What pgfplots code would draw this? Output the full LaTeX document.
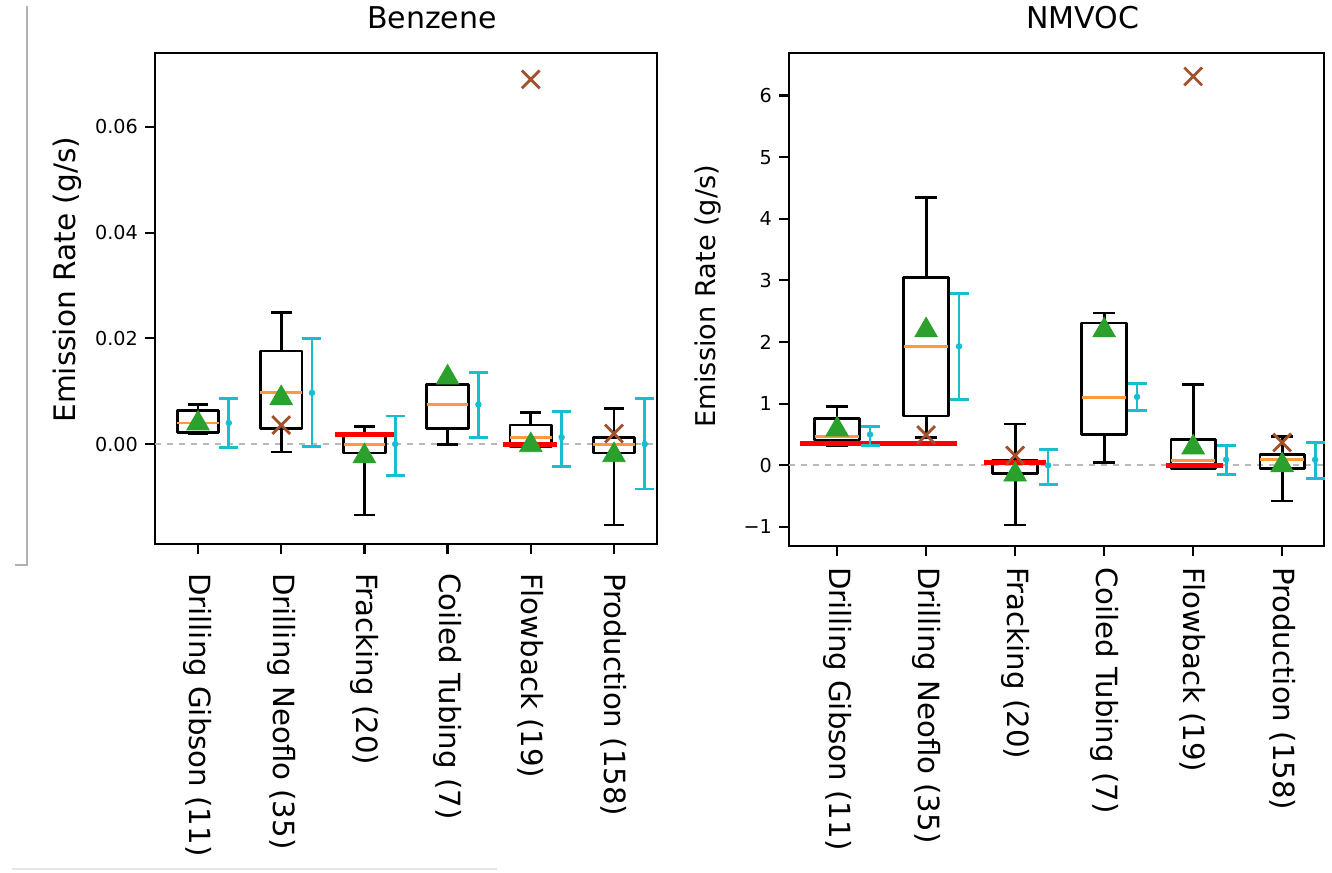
\documentclass[border=0pt]{standalone}
\usepackage{fontspec}
\setmainfont{DejaVu Sans}
\usepackage{pgfplots}
\pgfplotsset{compat=1.18}
\usepgfplotslibrary{statistics}
\definecolor{mgreen}{HTML}{2CA02C}
\definecolor{morange}{HTML}{FF9A3C}
\definecolor{mcyan}{HTML}{17BECF}
\definecolor{mbrown}{HTML}{A0522D}
\pgfplotsset{
 mystyle/.style={
   scale only axis,
   anchor=south west,
   axis line style={line width=1.1pt},
   tick style={line width=1.1pt, black},
   major tick length=5pt,
   tick align=outside,
   tick pos=left,
   scaled y ticks=false,
   xtick={0,...,5},
   xticklabels={Drilling Gibson (11), Drilling Neoflo (35), Fracking (20), Coiled Tubing (7), Flowback (19), Production (158)},
   xticklabel style={rotate=-90, anchor=west, font=\fontsize{14.6}{17}\selectfont},
   yticklabel style={font=\fontsize{9.6}{11}\selectfont},
   /pgf/number format/assume math mode=true,
   boxplot/draw direction=y,
   boxplot/box extend=0.5,
   boxplot/whisker extend=0.25,
   boxplot/every median/.style={draw=morange, line width=1.4pt},
   title style={font=\fontsize{15}{18}\selectfont, at={(0.5,1)}, anchor=base, yshift=6pt, xshift=13pt},
   ylabel style={font=\fontsize{14.8}{17}\selectfont, anchor=center},
   clip=false,
 },
 bx/.style={black, line width=1.4pt, solid, line join=round, mark=none},
 zl/.style={gray!55, dash pattern=on 3pt off 3pt, line width=0.8pt, forget plot},
 rl/.style={red, line width=2.5pt, forget plot},
 mn/.style={only marks, mark=triangle*, mark size=6.5pt, color=mgreen},
 xo/.style={only marks, mark=x, mark size=6.3pt, color=mbrown, mark options={line width=1.4pt}},
 cy/.style={only marks, color=mcyan, mark=*, mark size=1.4pt,
   error bars/.cd, y dir=both, y explicit,
   error bar style={line width=1.4pt, mcyan},
   error mark=-,
   error mark options={rotate=90, mark size=4.75pt, line width=1.4pt, mcyan}},
}
\begin{document}
\begin{tikzpicture}
\useasboundingbox (0,0) rectangle (666pt,436pt);
\draw[gray!60, line width=0.6pt] (13.5pt,433pt) -- (13.5pt,153.5pt) -- (7.5pt,153.5pt);
\draw[gray!20, line width=0.6pt] (6pt,1.5pt) -- (248.5pt,1.5pt);
% ---------------- Benzene ----------------
\begin{axis}[mystyle,
  at={(77.5pt,164pt)}, width=251pt, height=245.5pt,
  xmin=-0.517, xmax=5.517, ymin=-0.0189, ymax=0.074,
  ytick={0,0.02,0.04,0.06}, yticklabels={0.00,0.02,0.04,0.06},
  xticklabel shift=6pt,
  title={Benzene},
  ylabel={Emission Rate (g/s)},
  ylabel style={at={(axis description cs:-0.175,0.538)}},
]
\addplot[zl] coordinates {(-0.517,0) (5.517,0)};
\addplot[bx, boxplot prepared={lower whisker=0.0019, lower quartile=0.0022, median=0.0040, upper quartile=0.0064, upper whisker=0.0075, draw position=0}] coordinates {};
\addplot[bx, boxplot prepared={lower whisker=-0.0015, lower quartile=0.0030, median=0.0098, upper quartile=0.0176, upper whisker=0.0249, draw position=1}] coordinates {};
\addplot[bx, boxplot prepared={lower whisker=-0.0134, lower quartile=-0.0017, median=-0.0001, upper quartile=0.0016, upper whisker=0.0034, draw position=2}] coordinates {};
\addplot[bx, boxplot prepared={lower whisker=0.0000, lower quartile=0.0030, median=0.0075, upper quartile=0.0113, upper whisker=0.0113, draw position=3}] coordinates {};
\addplot[bx, boxplot prepared={lower whisker=-0.0004, lower quartile=-0.0004, median=0.0013, upper quartile=0.0036, upper whisker=0.0060, draw position=4}] coordinates {};
\addplot[bx, boxplot prepared={lower whisker=-0.0153, lower quartile=-0.0017, median=0.0000, upper quartile=0.0013, upper whisker=0.0068, draw position=5}] coordinates {};
\addplot[rl] coordinates {(1.65,0.0019) (2.35,0.0019)};
\addplot[rl] coordinates {(3.66,0.0000) (4.32,0.0000)};
\addplot[xo] coordinates {(1,0.0036) (4,0.069) (5,0.0020)};
\addplot[mn] coordinates {(0,0.0039) (1,0.0087) (2,-0.0023) (3,0.0126) (4,-0.0002) (5,-0.0021)};
\addplot[cy] coordinates {
 (0.37,0.0040) += (0,0.0047) -= (0,0.0046)
 (1.37,0.0097) += (0,0.0103) -= (0,0.0101)
 (2.37,0.0000) += (0,0.0053) -= (0,0.0060)
 (3.37,0.0075) += (0,0.0061) -= (0,0.0062)
 (4.37,0.0013) += (0,0.0049) -= (0,0.0055)
 (5.37,0.0000) += (0,0.0087) -= (0,0.0085)
};
\end{axis}
% ---------------- NMVOC ----------------
\begin{axis}[mystyle,
  at={(394.5pt,163pt)}, width=267.5pt, height=246.5pt,
  xmin=-0.54, xmax=5.47, ymin=-1.31, ymax=6.69,
  ytick={-1,0,1,2,3,4,5,6}, yticklabels={−1,0,1,2,3,4,5,6},
  xticklabel shift=2pt,
  title={NMVOC},
  ylabel={Emission Rate (g/s)},
  ylabel style={at={(axis description cs:-0.151,0.507)}, font=\fontsize{13.6}{16}\selectfont},
]
\addplot[zl] coordinates {(-0.54,0) (5.47,0)};
\addplot[bx, boxplot prepared={lower whisker=0.32, lower quartile=0.41, median=0.47, upper quartile=0.76, upper whisker=0.96, draw position=0}] coordinates {};
\addplot[bx, boxplot prepared={lower whisker=0.45, lower quartile=0.80, median=1.93, upper quartile=3.05, upper whisker=4.34, draw position=1}] coordinates {};
\addplot[bx, boxplot prepared={lower whisker=-0.97, lower quartile=-0.13, median=0.03, upper quartile=0.08, upper whisker=0.67, draw position=2}] coordinates {};
\addplot[bx, boxplot prepared={lower whisker=0.05, lower quartile=0.50, median=1.10, upper quartile=2.31, upper whisker=2.47, draw position=3}] coordinates {};
\addplot[bx, boxplot prepared={lower whisker=-0.05, lower quartile=-0.05, median=0.08, upper quartile=0.42, upper whisker=1.31, draw position=4}] coordinates {};
\addplot[bx, boxplot prepared={lower whisker=-0.58, lower quartile=-0.05, median=0.09, upper quartile=0.18, upper whisker=0.47, draw position=5}] coordinates {};
\addplot[rl] coordinates {(-0.42,0.36) (1.35,0.36)};
\addplot[rl] coordinates {(1.65,0.05) (2.35,0.05)};
\addplot[rl] coordinates {(3.69,0.00) (4.33,0.00)};
\addplot[xo] coordinates {(1,0.49) (2,0.16) (4,6.31) (5,0.37)};
\addplot[mn] coordinates {(0,0.58) (1,2.19) (2,-0.15) (3,2.19) (4,0.29) (5,0.00)};
\addplot[cy] coordinates {
 (0.37,0.50) += (0,0.13) -= (0,0.18)
 (1.37,1.93) += (0,0.86) -= (0,0.86)
 (2.37,0.00) += (0,0.26) -= (0,0.31)
 (3.37,1.11) += (0,0.22) -= (0,0.22)
 (4.37,0.09) += (0,0.23) -= (0,0.24)
 (5.37,0.09) += (0,0.28) -= (0,0.30)
};
\end{axis}
\end{tikzpicture}
\end{document}
